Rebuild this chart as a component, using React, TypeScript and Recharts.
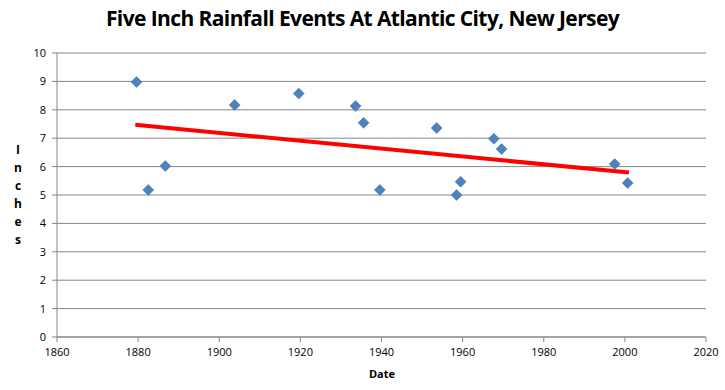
import React from "react";
import { ComposedChart, Scatter, Line, XAxis, YAxis, CartesianGrid } from "recharts";

const eventYears = [1879.6, 1882.5, 1886.7, 1903.8, 1919.6, 1933.6, 1935.6, 1939.6, 1953.6, 1958.5, 1959.5, 1967.7, 1969.6, 1997.5, 2000.7];
const eventInches = [8.98, 5.18, 6.02, 8.17, 8.57, 8.13, 7.54, 5.18, 7.36, 5.0, 5.47, 6.98, 6.62, 6.09, 5.42];

const trendYears = [1879.3, 2001.0];
const trendInches = [7.47, 5.79];

const xTicks = [1860, 1880, 1900, 1920, 1940, 1960, 1980, 2000, 2020];
const yTicks = [0, 1, 2, 3, 4, 5, 6, 7, 8, 9, 10];

const title = "Five Inch Rainfall Events At Atlantic City, New Jersey";
const yLabel = "Inches";
const xLabel = "Date";

const points = eventYears.map((x, i) => ({ x, y: eventInches[i] }));
const trend = trendYears.map((x, i) => ({ x, y: trendInches[i] }));

const FONT = "'Open Sans', 'DejaVu Sans', sans-serif";

const Diamond = (props: any) => {
  const { cx, cy } = props;
  if (cx == null || cy == null) return null;
  const r = 5.5;
  return (
    <path
      d={`M${cx},${cy - r} L${cx + r},${cy} L${cx},${cy + r} L${cx - r},${cy} Z`}
      fill="#4F81BD"
      stroke="#3E6FA8"
      strokeWidth={0.5}
    />
  );
};

export default function App() {
  return (
    <div style={{ position: "absolute", left: 0, top: 0, width: 725, height: 390, background: "#fff", fontFamily: FONT }}>
      <div
        style={{
          position: "absolute",
          left: 0,
          top: 4,
          width: 725,
          textAlign: "center",
          fontSize: 21,
          fontWeight: 700,
          color: "#000",
          letterSpacing: -0.6,
        }}
      >
        {title}
      </div>
      <div
        style={{
          position: "absolute",
          left: 8,
          top: 141,
          width: 20,
          textAlign: "center",
          fontSize: 12,
          fontWeight: 700,
          lineHeight: "18px",
          color: "#000",
        }}
      >
        {yLabel.split("").map((c, i) => (
          <div key={i}>{c}</div>
        ))}
      </div>
      <div
        style={{
          position: "absolute",
          left: 0,
          top: 366,
          width: 764,
          textAlign: "center",
          fontSize: 11,
          fontWeight: 700,
          color: "#000",
        }}
      >
        {xLabel}
      </div>
      <ComposedChart
        width={725}
        height={390}
        margin={{ top: 53, right: 19, bottom: 23, left: 0 }}
        style={{ position: "absolute", left: 0, top: 0 }}
      >
        <CartesianGrid vertical={false} stroke="#868686" strokeWidth={1} />
        <XAxis
          dataKey="x"
          type="number"
          domain={[1860, 2020]}
          ticks={xTicks}
          interval={0}
          height={30}
          axisLine={{ stroke: "#868686" }}
          tickLine={{ stroke: "#868686" }}
          tickSize={5}
          tickMargin={6}
          tick={{ fill: "#000", fontSize: 11, fontFamily: FONT }}
        />
        <YAxis
          dataKey="y"
          type="number"
          domain={[0, 10]}
          ticks={yTicks}
          interval={0}
          width={57}
          axisLine={{ stroke: "#868686" }}
          tickLine={{ stroke: "#868686" }}
          tickSize={5}
          tickMargin={6}
          tick={{ fill: "#000", fontSize: 11, fontFamily: FONT }}
        />
        <Line
          data={trend}
          dataKey="y"
          stroke="#FF0000"
          strokeWidth={4}
          dot={false}
          activeDot={false}
          isAnimationActive={false}
        />
        <Scatter data={points} dataKey="y" shape={<Diamond />} isAnimationActive={false} />
      </ComposedChart>
    </div>
  );
}
